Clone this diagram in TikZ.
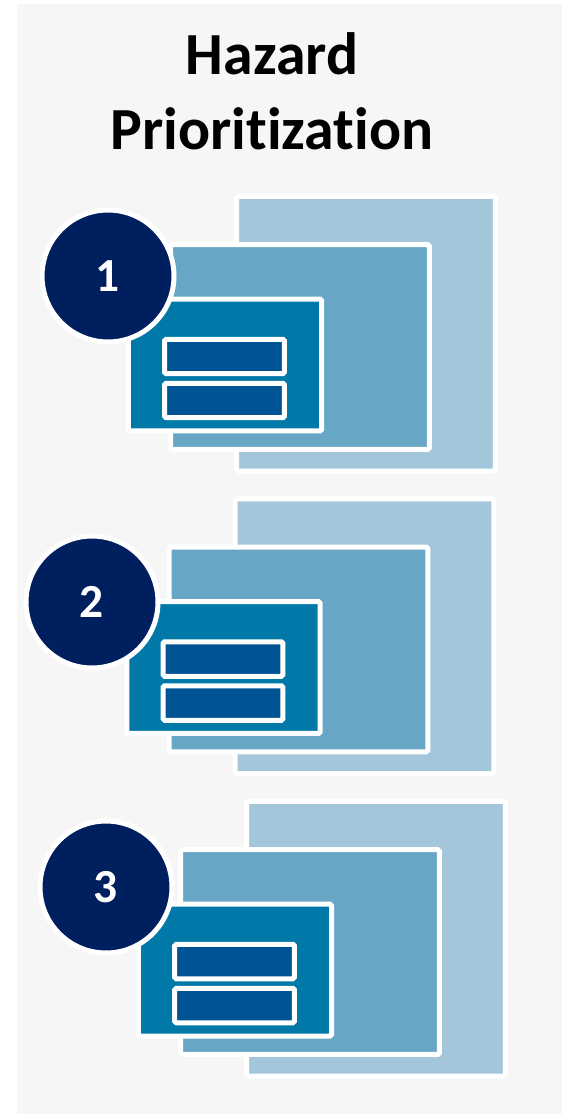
\documentclass[tikz,border=0pt]{standalone}
\usepackage{fontspec}
\setmainfont{Carlito}[Ligatures=CommonOff]
\usepackage{xcolor}
\usepackage{tikz}
\usetikzlibrary{positioning}
\definecolor{panelgray}{RGB}{246,246,246}
\definecolor{paleblue}{RGB}{163,198,219}
\definecolor{midblue}{RGB}{103,167,197}
\definecolor{teal}{RGB}{0,121,169}
\definecolor{barblue}{RGB}{0,84,147}
\definecolor{navy}{RGB}{0,31,95}
\tikzset{
  back/.style  ={draw=white, line width=0.1cm, rectangle, rounded corners=1pt, fill=paleblue, minimum width=5.18cm, minimum height=5.5cm, inner sep=0pt, outer sep=0pt},
  mid/.style   ={draw=white, line width=0.1cm, rectangle, rounded corners=1pt, fill=midblue, minimum width=5.18cm, minimum height=4.1cm, inner sep=0pt, outer sep=0pt},
  front/.style ={draw=white, line width=0.1cm, rectangle, rounded corners=1pt, fill=teal, minimum width=3.87cm, minimum height=2.64cm, inner sep=0pt, outer sep=0pt},
  bar/.style   ={draw=white, line width=0.1cm, rectangle, rounded corners=1pt, fill=barblue, minimum width=2.4cm, minimum height=0.69cm, inner sep=0pt, outer sep=0pt},
  num/.style   ={draw=white, line width=0.1cm, circle, fill=navy, minimum size=2.64cm, inner sep=0pt, text=white, font=\fontsize{27}{30}\selectfont\bfseries},
  title/.style ={anchor=base, inner sep=0pt, font=\fontsize{34}{40}\selectfont\bfseries},
}
\begin{document}
\begin{tikzpicture}[x=0.02cm, y=-0.02cm]
  \useasboundingbox (0,0) rectangle (562,1114);
  \fill[white] (0,0) rectangle (562,1114);
  \fill[panelgray] (17,4) rectangle (562,1114);

  \node[title] (titleA) at (272,75) {Hazard};
  \node[title] (titleB) at (272,150) {Prioritization};

  % three stacked groups
  \foreach \k/\dx/\dy/\cx/\cy in {1/0/0/108/276, 2/-1.5/302.5/92/602, 3/10/605/106/887} {
    \begin{scope}[shift={(\dx,\dy)}]
      \node[back]  (back\k)  at (366,333.75) {};
      \node[mid]   (mid\k)   at (300,347) {};
      \node[front] (front\k) at (225,365) {};
      \node[bar]   (barA\k)  at (224.5,356.5) {};
      \node[bar]   (barB\k)  at (224.5,400.5) {};
    \end{scope}
    \node[num] (num\k) at (\cx,\cy) {\k};
  }
\end{tikzpicture}
\end{document}
